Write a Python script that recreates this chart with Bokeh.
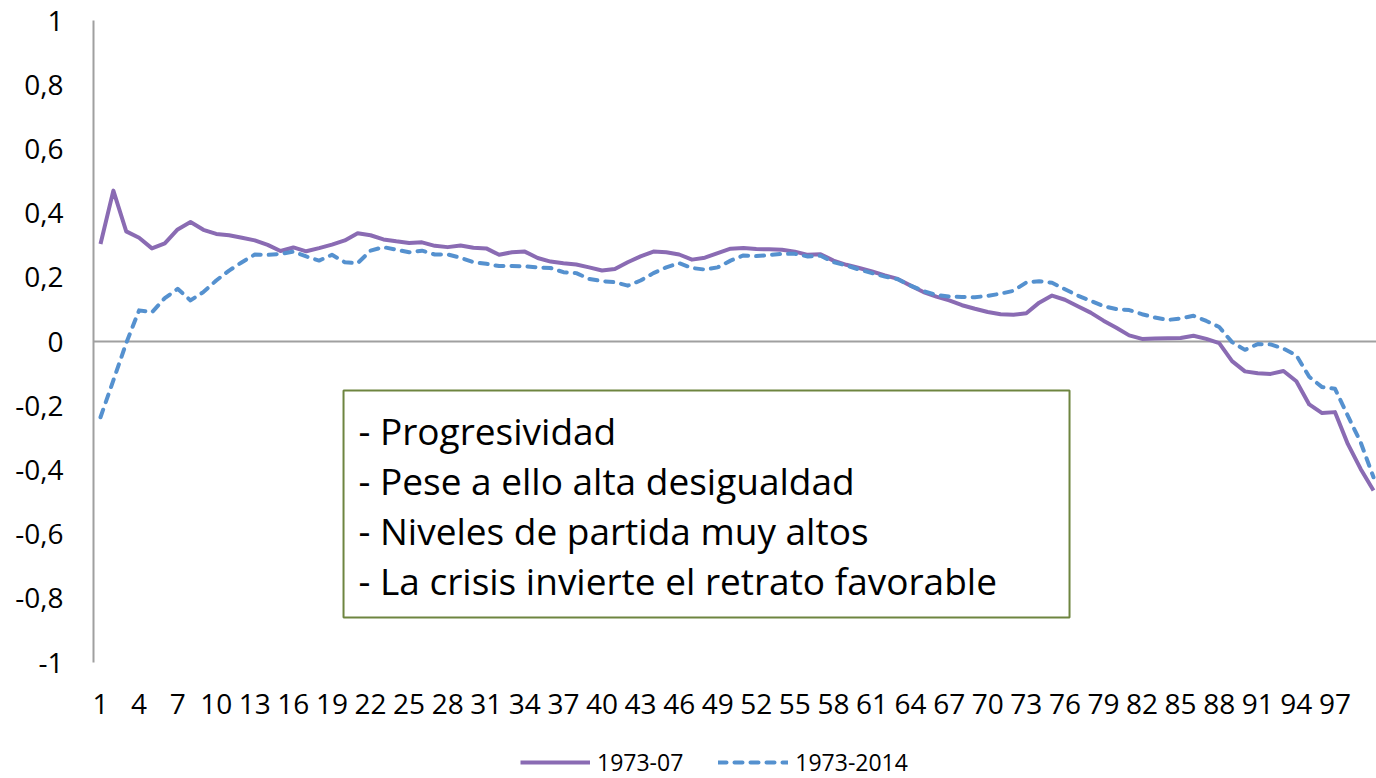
from bokeh.plotting import figure
from bokeh.layouts import column
from bokeh.models import (Range1d, FixedTicker, CustomJSTickFormatter, Span, BoxAnnotation,
                          Label, Legend, LegendItem, ColumnDataSource)
from bokeh.embed import file_html
from bokeh.resources import INLINE

# ---- data -------------------------------------------------------------
percentiles = list(range(1, 101))

serie_1973_07 = [
    0.304, 0.470, 0.343, 0.323, 0.290, 0.306, 0.349, 0.372, 0.348, 0.335,
    0.331, 0.323, 0.315, 0.301, 0.282, 0.293, 0.281, 0.291, 0.302, 0.315,
    0.337, 0.331, 0.318, 0.312, 0.307, 0.309, 0.298, 0.294, 0.299, 0.292,
    0.290, 0.270, 0.278, 0.280, 0.260, 0.249, 0.244, 0.240, 0.231, 0.221,
    0.226, 0.247, 0.265, 0.280, 0.278, 0.271, 0.255, 0.261, 0.275, 0.289,
    0.291, 0.288, 0.287, 0.286, 0.280, 0.270, 0.272, 0.252, 0.239, 0.229,
    0.218, 0.206, 0.195, 0.174, 0.154, 0.140, 0.128, 0.113, 0.102, 0.092,
    0.085, 0.083, 0.088, 0.121, 0.143, 0.130, 0.110, 0.090, 0.065, 0.043,
    0.019, 0.008, 0.009, 0.010, 0.011, 0.018, 0.008, -0.005, -0.061, -0.093,
    -0.099, -0.101, -0.092, -0.124, -0.196, -0.223, -0.220, -0.319, -0.397, -0.464,
]

serie_1973_2014 = [
    -0.236, -0.121, -0.005, 0.097, 0.091, 0.135, 0.164, 0.128, 0.154, 0.190,
    0.221, 0.247, 0.271, 0.270, 0.273, 0.280, 0.265, 0.252, 0.270, 0.247,
    0.244, 0.283, 0.294, 0.286, 0.278, 0.283, 0.271, 0.271, 0.261, 0.247,
    0.242, 0.235, 0.235, 0.234, 0.231, 0.229, 0.216, 0.213, 0.195, 0.188,
    0.185, 0.174, 0.190, 0.213, 0.231, 0.244, 0.229, 0.224, 0.231, 0.252,
    0.268, 0.266, 0.269, 0.273, 0.273, 0.265, 0.267, 0.247, 0.237, 0.224,
    0.213, 0.202, 0.194, 0.174, 0.157, 0.145, 0.140, 0.139, 0.138, 0.142,
    0.149, 0.158, 0.184, 0.188, 0.183, 0.163, 0.143, 0.127, 0.110, 0.101,
    0.098, 0.085, 0.075, 0.067, 0.072, 0.080, 0.064, 0.045, -0.002, -0.026,
    -0.008, -0.009, -0.022, -0.043, -0.110, -0.142, -0.147, -0.231, -0.314, -0.423,
]

series_labels = ["1973-07", "1973-2014"]
x_tick_values = list(range(1, 98, 3))
y_tick_values = [-1, -0.8, -0.6, -0.4, -0.2, 0, 0.2, 0.4, 0.6, 0.8, 1]

note_lines = [
    "- Progresividad",
    "- Pese a ello alta desigualdad",
    "- Niveles de partida muy altos",
    "- La crisis invierte el retrato favorable",
]

# ---- styles -----------------------------------------------------------
FONT = "Open Sans"
PURPLE = "#8A6BB3"
BLUE = "#5591CF"
GRAY = "#A0A0A0"
W = 1376
H_MAIN = 745
H_LEG = 33

line_styles = [
    dict(line_color=PURPLE, line_width=4, line_join="round"),
    dict(line_color=BLUE, line_width=4, line_dash="8 8", line_cap="round", line_join="round"),
]

src = ColumnDataSource(dict(x=percentiles, a=serie_1973_07, b=serie_1973_2014))

# ---- main chart ---------------------------------------------------------
p = figure(width=W, height=H_MAIN, output_backend="svg", toolbar_location=None,
           x_range=Range1d(0.4556, 100.233), y_range=Range1d(-1, 1),
           min_border_left=93, min_border_right=0, min_border_top=20,
           min_border_bottom=H_MAIN - 662)
p.outline_line_color = None
p.grid.visible = False
p.background_fill_color = "white"
p.border_fill_color = "white"

xa = p.xaxis[0]
xa.ticker = FixedTicker(ticks=x_tick_values)
xa.axis_line_color = None
xa.major_tick_line_color = None
xa.minor_tick_line_color = None
xa.major_tick_out = 0
xa.major_tick_in = 0
xa.major_label_text_font = FONT
xa.major_label_text_font_size = "28px"
xa.major_label_text_color = "black"
xa.major_label_standoff = 31

ya = p.yaxis[0]
ya.ticker = FixedTicker(ticks=y_tick_values)
ya.formatter = CustomJSTickFormatter(
    code="var s = (Math.round(tick*10)/10).toString(); return s.replace('.', ',');")
ya.axis_line_color = GRAY
ya.axis_line_width = 2
ya.major_tick_line_color = None
ya.minor_tick_line_color = None
ya.major_tick_out = 0
ya.major_tick_in = 0
ya.major_label_text_font = FONT
ya.major_label_text_font_size = "28px"
ya.major_label_text_color = "black"
ya.major_label_standoff = 30

p.add_layout(Span(location=0, dimension="width", line_color=GRAY, line_width=2,
                  level="underlay"))

p.line("x", "a", source=src, **line_styles[0])
p.line("x", "b", source=src, **line_styles[1])

box = BoxAnnotation(left=19.90, right=76.36, top=-0.1526, bottom=-0.8598,
                    fill_color="white", fill_alpha=1.0,
                    line_color="#6E8540", line_alpha=1.0, line_width=2)
p.add_layout(box)
line_y0 = -0.2772
line_step = 0.1558
for i, t in enumerate(note_lines):
    p.add_layout(Label(x=21.06, y=line_y0 - i * line_step, text=t,
                       text_font=FONT, text_font_size="37px", text_color="black",
                       text_baseline="alphabetic", text_align="left"))

# ---- legend strip (same series, drawn outside its visible range) -------
q = figure(width=W, height=H_LEG, output_backend="svg", toolbar_location=None,
           x_range=Range1d(0.4556, 100.233), y_range=Range1d(10, 11),
           x_axis_location=None, y_axis_location=None,
           min_border_left=0, min_border_right=0, min_border_top=0, min_border_bottom=0)
q.outline_line_color = None
q.grid.visible = False
q.background_fill_color = "white"
q.border_fill_color = "white"
k1 = q.line("x", "a", source=src, **line_styles[0])
k2 = q.line("x", "b", source=src, **line_styles[1])
legend = Legend(items=[LegendItem(label=series_labels[0], renderers=[k1]),
                       LegendItem(label=series_labels[1], renderers=[k2])],
                orientation="horizontal", location=(427, 0),
                glyph_width=70, glyph_height=20, label_standoff=7, spacing=35,
                padding=0, margin=0, border_line_color=None,
                background_fill_alpha=0,
                label_text_font=FONT, label_text_font_size="23px",
                label_text_color="black")
q.add_layout(legend)

layout = column(p, q, spacing=0)
open("out.html", "w").write(file_html(layout, INLINE))
